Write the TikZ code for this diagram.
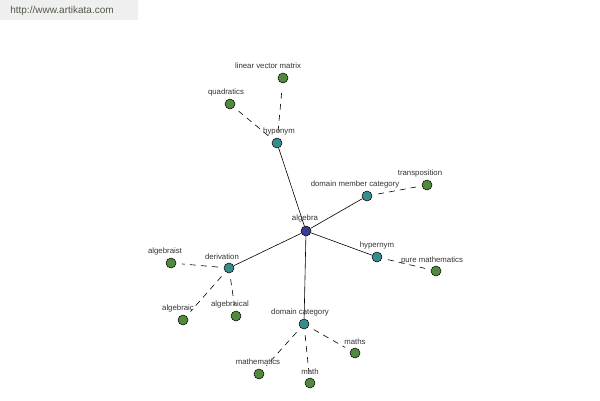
\documentclass[tikz,border=0pt]{standalone}
\usepackage{fontspec}
\setmainfont{Liberation Sans}
\begin{document}
\begin{tikzpicture}[x=1pt,y=-1pt,
  dot/.style={circle,draw=black,line width=0.5pt,minimum size=10pt,inner sep=0pt},
  leaf/.style={dot,fill=leafc},
  hub/.style={dot,fill=hubc},
  root/.style={dot,fill=rootc},
  lab/.style={text=labc,font=\fontsize{7.8}{9}\selectfont,inner sep=0pt},
  solidlink/.style={draw=black,line width=0.6pt},
  dashlink/.style={draw=black,line width=0.6pt,dash pattern=on 6pt off 5pt,shorten <=6pt,shorten >=6pt}]
\definecolor{leafc}{HTML}{4F8A3E}
\definecolor{hubc}{HTML}{3A8C8C}
\definecolor{rootc}{HTML}{3A3D8E}
\definecolor{labc}{HTML}{333333}
\definecolor{wmbg}{HTML}{EFEFEF}
\definecolor{wmtext}{HTML}{4E5A45}
\useasboundingbox (0,0) rectangle (600,400);
\fill[white] (0,0) rectangle (600,400);
\fill[wmbg] (0,0) rectangle (138,20);
\node[text=wmtext,font=\fontsize{10}{11}\selectfont,inner sep=0pt] (wm) at (62,11) {http://www.artikata.com};
% nodes
\node[root] (algebra) at (306,231) {};
\node[hub] (hyponym) at (277,143) {};
\node[hub] (dmc) at (367,196) {};
\node[hub] (hypernym) at (377,257) {};
\node[hub] (derivation) at (229,268) {};
\node[hub] (dc) at (304,324) {};
\node[leaf] (lvm) at (283,78) {};
\node[leaf] (quad) at (230,104) {};
\node[leaf] (trans) at (427,185) {};
\node[leaf] (pure) at (436,271) {};
\node[leaf] (algebraist) at (171,263) {};
\node[leaf] (algebraic) at (183,320) {};
\node[leaf] (algebraical) at (236,316) {};
\node[leaf] (maths) at (355,353) {};
\node[leaf] (mathematics) at (259,374) {};
\node[leaf] (math) at (310,383) {};
% links
\draw[solidlink] (algebra) -- (hyponym);
\draw[solidlink] (algebra) -- (dmc);
\draw[solidlink] (algebra) -- (hypernym);
\draw[solidlink] (algebra) -- (derivation);
\draw[solidlink] (algebra) -- (dc);
\draw[dashlink] (hyponym) -- (lvm);
\draw[dashlink] (hyponym) -- (quad);
\draw[dashlink] (dmc) -- (trans);
\draw[dashlink] (hypernym) -- (pure);
\draw[dashlink] (derivation) -- (algebraist);
\draw[dashlink] (derivation) -- (algebraic);
\draw[dashlink] (derivation) -- (algebraical);
\draw[dashlink] (dc) -- (maths);
\draw[dashlink] (dc) -- (mathematics);
\draw[dashlink] (dc) -- (math);
% labels
\node[lab] (l-algebra) at (305,218) {algebra};
\node[lab] (l-hyponym) at (279,131) {hyponym};
\node[lab] (l-lvm) at (268,66) {linear vector matrix};
\node[lab] (l-quad) at (226,92) {quadratics};
\node[lab] (l-dmc) at (355,184) {domain member category};
\node[lab] (l-trans) at (420,173) {transposition};
\node[lab] (l-hypernym) at (377,245) {hypernym};
\node[lab] (l-pure) at (432,260) {pure mathematics};
\node[lab] (l-derivation) at (222,257) {derivation};
\node[lab] (l-algebraist) at (165,251) {algebraist};
\node[lab] (l-algebraic) at (178,308) {algebraic};
\node[lab] (l-algebraical) at (230,304) {algebraical};
\node[lab] (l-dc) at (300,312) {domain category};
\node[lab] (l-maths) at (355,342) {maths};
\node[lab] (l-mathematics) at (258,362) {mathematics};
\node[lab] (l-math) at (310,372) {math};
\end{tikzpicture}
\end{document}
